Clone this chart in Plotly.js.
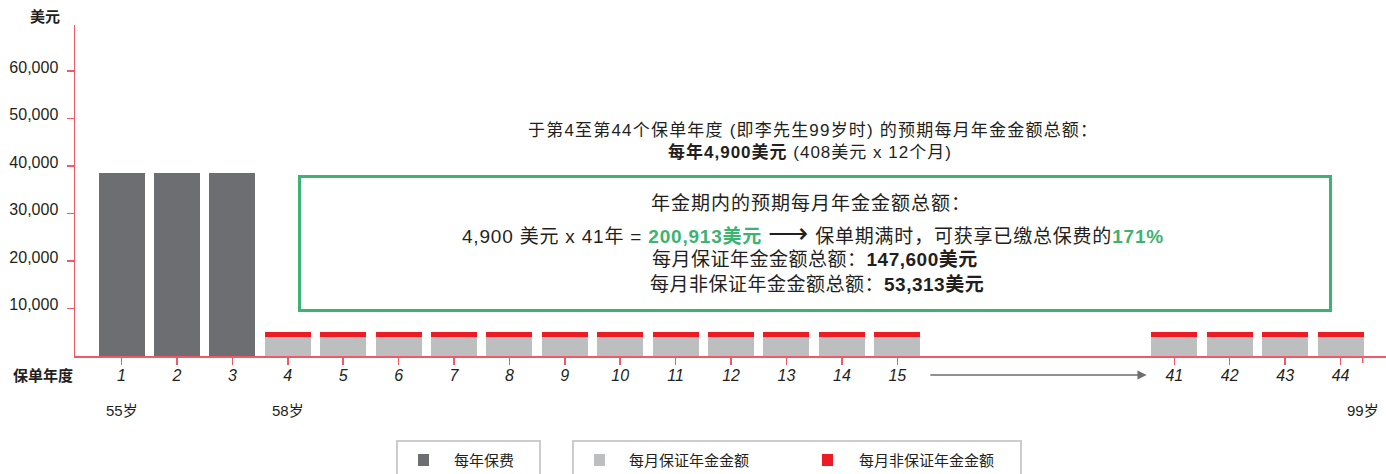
<!DOCTYPE html>
<html>
<head>
<meta charset="utf-8">
<script src="https://cdn.plot.ly/plotly-3.0.1.min.js"></script>
<style>html,body{margin:0;padding:0;background:#fff;}#chart{width:1386px;height:474px;}</style>
</head>
<body>
<div id="chart"></div>
<script>
// ---- data ----
const policyYears = ['1','2','3','4','5','6','7','8','9','10','11','12','13','14','15','41','42','43','44'];
const gapSlots = ['gap1','gap2','gap3','gap4'];
const annualPremium =        [38500,38500,38500,null,null,null,null,null,null,null,null,null,null,null,null,null,null,null,null];
const guaranteedAnnuity =    [null,null,null,4100,4100,4100,4100,4100,4100,4100,4100,4100,4100,4100,4100,4100,4100,4100,4100];
const nonGuaranteedAnnuity = [null,null,null,1000,1000,1000,1000,1000,1000,1000,1000,1000,1000,1000,1000,1000,1000,1000,1000];
const yTickValues = [10000,20000,30000,40000,50000,60000];
const seriesNames = ['每年保费','每月保证年金金额','每月非保证年金金额'];
const ageLabels = [['1','55岁'],['4','58岁']];
const endAgeLabel = '99岁';

// ---- layout helpers (pixel -> paper) ----
const W = 1386, H = 474, ML = 75, MR = 0, MT = 25, MB = 118;
const PW = W - ML - MR, PH = H - MT - MB;
const px = x => (x - ML) / PW;
const py = y => (H - MB - y) / PH;

const colors = {dark:'#6d6e71', light:'#bcbec0', red:'#ed1c24', green:'#3cb371', axis:'#ef5a66', text:'#231f20', legendBorder:'#cccccc'};
const latin = 'Liberation Sans, Arial, "Noto Sans CJK SC", sans-serif';

const categoryOrder = policyYears.slice(0,15).concat(gapSlots, policyYears.slice(15));
const endIndex = categoryOrder.length - 1 + 0.4;

const traces = [
  {type:'bar', x:policyYears, y:annualPremium, name:seriesNames[0], marker:{color:colors.dark}, showlegend:false, hoverinfo:'skip'},
  {type:'bar', x:policyYears, y:guaranteedAnnuity, name:seriesNames[1], marker:{color:colors.light}, showlegend:false, hoverinfo:'skip'},
  {type:'bar', x:policyYears, y:nonGuaranteedAnnuity, name:seriesNames[2], marker:{color:colors.red}, showlegend:false, hoverinfo:'skip'}
];

const green = t => `<span style="color:${colors.green}"><b>${t}</b></span>`;
const spaced = (t, s) => `<span style="letter-spacing:${s}px">${t}</span>`;

function note(x, y, text, size, opts) {
  return Object.assign({xref:'paper', yref:'paper', x:px(x), y:py(y), xanchor:'center', yanchor:'middle', text, showarrow:false,
    font:{family:latin, size, color:colors.text}}, opts || {});
}

const annotations = [
  note(45, 17, '<b>美元</b>', 15),
  note(43, 375, '<b>保单年度</b>', 15),
  note(813, 130, spaced('于第4至第44个保单年度 (即李先生99岁时) 的预期每月年金金额总额：', 1.2), 17),
  note(810, 152, spaced('<b>每年4,900美元</b> (408美元 x 12个月)', 1), 17),
  note(811, 203, spaced('年金期内的预期每月年金金额总额：', 1), 19),
  note(813, 233, spaced('4,900 美元 x 41年 = ' + green('200,913美元') + ' <span style="font-size:28px">⟶</span> 保单期满时，可获享已缴总保费的' + green('171%'), 0.8), 19),
  note(815, 259, spaced('每月保证年金金额总额：<b>147,600美元</b>', 0.5), 19),
  note(817, 284, spaced('每月非保证年金金额总额：<b>53,313美元</b>', 0.5), 19),
  // gap arrow under the axis
  {xref:'x', yref:'paper', x:categoryOrder.indexOf('gap4') + 0.5, y:py(375), axref:'x', ax:categoryOrder.indexOf('15') + 0.57, ayref:'pixel', ay:0, text:'', showarrow:true, arrowhead:2, arrowsize:1.4, arrowwidth:1.3, arrowcolor:'#6d6e71'},
  // legend texts
  note(452, 460, seriesNames[0], 15, {xanchor:'left'}),
  note(627, 460, seriesNames[1], 15, {xanchor:'left'}),
  note(857, 460, seriesNames[2], 15, {xanchor:'left'})
];
ageLabels.forEach(([yr, t]) => annotations.push({xref:'x', yref:'paper', x:categoryOrder.indexOf(yr), y:py(410), xanchor:'center', yanchor:'middle', text:t, showarrow:false, font:{family:latin, size:15, color:colors.text}}));
annotations.push({xref:'x', yref:'paper', x:endIndex, y:py(410), xanchor:'center', yanchor:'middle', text:endAgeLabel, showarrow:false, font:{family:latin, size:15, color:colors.text}});

const shapes = [
  // green box
  {type:'rect', xref:'paper', yref:'paper', x0:px(299.5), x1:px(1330.5), y0:py(176.5), y1:py(310.5), line:{color:colors.green, width:3}},
  // end tick
  {type:'line', xref:'x', yref:'paper', x0:endIndex, x1:endIndex, y0:0, y1:py(H-MB+7), line:{color:colors.axis, width:1.5}},
  // legend boxes
  {type:'rect', xref:'paper', yref:'paper', x0:px(397), x1:px(540), y0:py(441), y1:py(490), line:{color:colors.legendBorder, width:2}},
  {type:'rect', xref:'paper', yref:'paper', x0:px(573), x1:px(1021), y0:py(441), y1:py(490), line:{color:colors.legendBorder, width:2}},
  {type:'rect', xref:'paper', yref:'paper', x0:px(418), x1:px(429), y0:py(454), y1:py(466), line:{width:0}, fillcolor:colors.dark},
  {type:'rect', xref:'paper', yref:'paper', x0:px(594), x1:px(605), y0:py(454), y1:py(466), line:{width:0}, fillcolor:colors.light},
  {type:'rect', xref:'paper', yref:'paper', x0:px(822), x1:px(833), y0:py(454), y1:py(466), line:{width:0}, fillcolor:colors.red}
];

const layout = {
  width:W, height:H,
  margin:{l:ML, r:MR, t:MT, b:MB, pad:0},
  paper_bgcolor:'#fff', plot_bgcolor:'#fff',
  barmode:'stack', bargap:0.17,
  showlegend:false,
  font:{family:latin, color:colors.text},
  xaxis:{
    type:'category', categoryorder:'array', categoryarray:categoryOrder,
    range:[-0.84, 22.82],
    tickmode:'array', tickvals:policyYears, ticktext:policyYears,
    ticks:'outside', ticklen:7, tickwidth:1.5, tickcolor:colors.axis,
    showline:true, linecolor:colors.axis, linewidth:1.5,
    showgrid:false, zeroline:false, fixedrange:true, ticklabelstandoff:-3,
    tickfont:{family:latin, size:16, style:'italic', color:colors.text}
  },
  yaxis:{
    range:[0, 69700],
    tickmode:'array', tickvals:yTickValues, tickformat:',d',
    ticks:'outside', ticklen:7, tickwidth:1.5, tickcolor:colors.axis,
    showline:true, linecolor:colors.axis, linewidth:1.5,
    showgrid:false, zeroline:false, fixedrange:true, ticklabelstandoff:5, ticklabelshift:-4,
    tickfont:{family:latin, size:16, color:colors.text}
  },
  annotations, shapes
};

Plotly.newPlot('chart', traces, layout, {displayModeBar:false, staticPlot:true});
</script>
</body>
</html>
